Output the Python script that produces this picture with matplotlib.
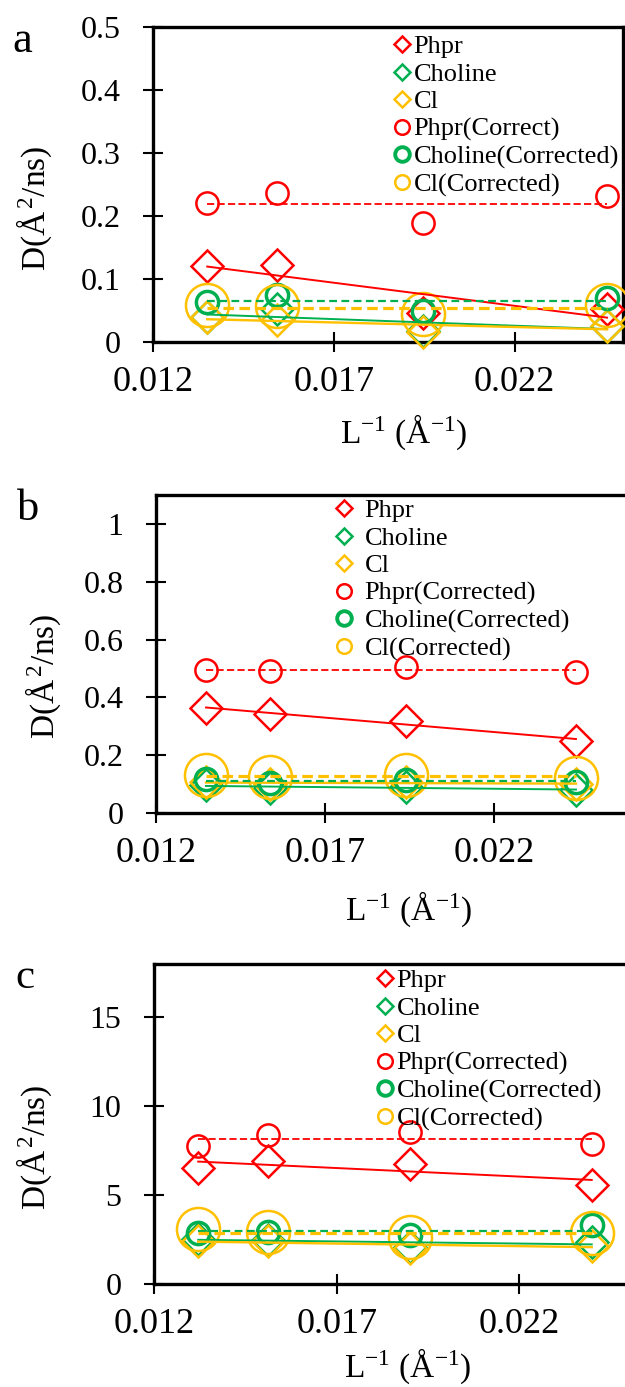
import numpy as np
import matplotlib
matplotlib.use("Agg")
from matplotlib import pyplot as plt
from matplotlib.lines import Line2D
from matplotlib.ticker import FuncFormatter

# 1/L (A^-1) de cada painel
x_a = [0.0135, 0.01543, 0.01947, 0.02456]
x_b = [0.01348, 0.01538, 0.0194, 0.02443]
x_c = [0.01321, 0.01513, 0.01901, 0.02398]

# painel a
phpr_a = [0.120, 0.122, 0.046, 0.052]
choline_a = [0.040, 0.052, 0.017, 0.026]
cl_a = [0.040, 0.035, 0.016, 0.026]
phpr_corr_a = [0.220, 0.236, 0.189, 0.232]
choline_corr_a = [0.063, 0.075, 0.050, 0.070]
cl_corr_a = [0.058, 0.057, 0.044, 0.058]

# painel b
phpr_b = [0.362, 0.343, 0.318, 0.250]
choline_b = [0.097, 0.085, 0.091, 0.080]
cl_b = [0.108, 0.100, 0.106, 0.101]
phpr_corr_b = [0.495, 0.492, 0.506, 0.489]
choline_corr_b = [0.117, 0.105, 0.114, 0.108]
cl_corr_b = [0.132, 0.124, 0.133, 0.121]

# painel c
phpr_c = [6.52, 6.90, 6.77, 5.58]
choline_c = [2.55, 2.50, 2.10, 2.35]
cl_c = [2.40, 2.40, 2.05, 2.15]
phpr_corr_c = [7.78, 8.37, 8.55, 7.90]
choline_corr_c = [2.86, 2.95, 2.76, 3.33]
cl_corr_c = [3.08, 2.92, 2.67, 2.86]

labels_a = ["Phpr", "Choline", "Cl", "Phpr(Correct)", "Choline(Corrected)", "Cl(Corrected)"]
labels_bc = ["Phpr", "Choline", "Cl", "Phpr(Corrected)", "Choline(Corrected)", "Cl(Corrected)"]

xticks = [0.012, 0.017, 0.022]
yticks_a = [0, 0.1, 0.2, 0.3, 0.4, 0.5]
yticks_b = [0, 0.2, 0.4, 0.6, 0.8, 1.0]
yticks_c = [0, 5, 10, 15]

RED = "#FF0000"
GREEN = "#00B050"
GOLD = "#FFC000"
cores = [RED, GREEN, GOLD]

plt.rcParams["font.family"] = ["Liberation Serif", "DejaVu Serif"]
plt.rcParams["mathtext.fontset"] = "custom"
plt.rcParams["mathtext.rm"] = "Liberation Serif"
plt.rcParams["mathtext.it"] = "Liberation Serif:italic"

W, H = 625, 1387
fig = plt.figure(figsize=(W / 100, H / 100), dpi=100)


def px_axes(left, right, top, bottom):
    return fig.add_axes([left / W, 1 - bottom / H, (right - left) / W, (bottom - top) / H])


def painel(ax, x, raw, corr, labels, xlim, ylim, yticks, leg_xy, leg_pad, ylab_pos, xlab_pos):
    x = np.array(x)
    xs = np.array([x[0], x[-1]])
    # estilos das linhas de ajuste (solida = bruto, tracejada = corrigido)
    solid_lw = [1.4, 1.4, 1.7]
    dash_lw = [1.3, 1.6, 2.3]
    dash_pat = [(4, 1.8), (3.5, 2), (3.3, 1.7)]
    circ_ms = [16, 16, 31]
    circ_mew = [1.8, 2.5, 1.8]
    for i in range(3):
        c = cores[i]
        ax.plot(x, raw[i], ls="none", marker="D", ms=16.5, mfc="none", mec=c, mew=1.8, clip_on=False, zorder=3)
        coef = np.polyfit(x, raw[i], 1)
        ax.plot(xs, np.polyval(coef, xs), color=c, lw=solid_lw[i], zorder=4)
    for i in range(3):
        c = cores[i]
        ax.plot(x, corr[i], ls="none", marker="o", ms=circ_ms[i], mfc="none", mec=c, mew=circ_mew[i],
                clip_on=False, zorder=3)
        media = np.mean(corr[i])
        ax.plot(xs, [media, media], color=c, lw=dash_lw[i], ls=(0, dash_pat[i]), zorder=4)

    ax.set_xlim(xlim)
    ax.set_ylim(ylim)
    ax.set_xticks(xticks)
    ax.set_yticks(yticks)
    fmt = FuncFormatter(lambda v, p: "{:g}".format(v))
    ax.xaxis.set_major_formatter(fmt)
    ax.yaxis.set_major_formatter(fmt)
    ax.tick_params(axis="both", direction="inout", length=15, width=1.5, color="black")
    ax.tick_params(axis="x", labelsize=26, pad=10)
    ax.tick_params(axis="y", labelsize=23, pad=16)
    for s in ax.spines.values():
        s.set_linewidth(2.4)

    ax.set_ylabel("D(Å$^{\\,2}$/ns)", fontsize=24)
    ax.yaxis.set_label_coords(ylab_pos[0], ylab_pos[1])
    ax.set_xlabel("L$^{-1}$ (Å$^{-1}$)", fontsize=24)
    ax.xaxis.set_label_coords(xlab_pos[0], xlab_pos[1])

    handles = []
    for i in range(3):
        handles.append(Line2D([], [], ls="none", marker="D", ms=8, mfc="none", mec=cores[i], mew=1.8))
    for i in range(3):
        handles.append(Line2D([], [], ls="none", marker="o", ms=10.5, mfc="none", mec=cores[i],
                              mew=2.8 if i == 1 else 1.8))
    ax.legend(handles, labels, loc="upper left", bbox_to_anchor=(leg_xy[0] / W, 1 - leg_xy[1] / H),
              bbox_transform=fig.transFigure, frameon=False, fontsize=19, handlelength=0.5,
              handletextpad=leg_pad, labelspacing=0.15, borderpad=0, borderaxespad=0)


ax_a = px_axes(153, 623, 27, 342)
painel(ax_a, x_a, [phpr_a, choline_a, cl_a], [phpr_corr_a, choline_corr_a, cl_corr_a], labels_a,
       (0.012, 0.025), (0, 0.5), yticks_a, (395, 35), 0.2, (-0.21, 0.425), (0.533, -0.225))

ax_b = px_axes(156, 629, 495, 813)
painel(ax_b, x_b, [phpr_b, choline_b, cl_b], [phpr_corr_b, choline_corr_b, cl_corr_b], labels_bc,
       (0.012, 0.026), (0, 1.1), yticks_b, (337, 499), 0.55, (-0.197, 0.429), (0.535, -0.242))

ax_c = px_axes(154, 629, 964, 1284)
painel(ax_c, x_c, [phpr_c, choline_c, cl_c], [phpr_corr_c, choline_corr_c, cl_corr_c], labels_bc,
       (0.012, 0.025), (0, 18), yticks_c, (378, 969), 0.2, (-0.21, 0.428), (0.535, -0.195))

# letras dos paineis
fig.text(12 / W, 1 - 52 / H, "a", fontsize=32, ha="left", va="baseline")
fig.text(17 / W, 1 - 520 / H, "b", fontsize=32, ha="left", va="baseline")
fig.text(15 / W, 1 - 988 / H, "c", fontsize=31, ha="left", va="baseline")

fig.savefig("out.png", dpi=100)
